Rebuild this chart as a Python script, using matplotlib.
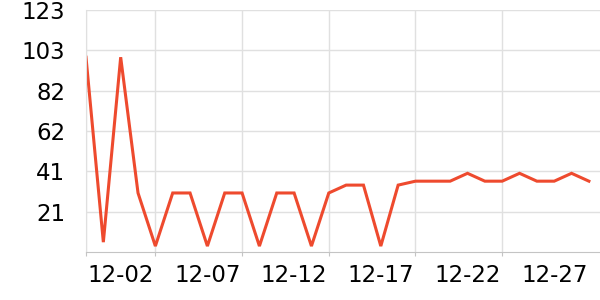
import matplotlib
matplotlib.use("Agg")
import matplotlib.pyplot as plt

dates = ["11-30"] + [f"12-{d:02d}" for d in range(1, 30)]
values = [99, 5, 99, 30, 3, 30, 30, 3, 30, 30, 3, 30, 30, 3, 30,
          34, 34, 3, 34, 36, 36, 36, 40, 36, 36, 40, 36, 36, 40, 36]
label_idx = [2, 7, 12, 17, 22, 27]
split_idx = [0, 4, 9, 14, 19, 24]
y_ticks = [20.5, 41, 61.5, 82, 102.5, 123]
y_labels = ["21", "41", "62", "82", "103", "123"]

fig = plt.figure(figsize=(6, 3), dpi=100)
ax = fig.add_axes([86 / 600, 48 / 300, 514 / 600, 242 / 300])

x = list(range(len(values)))
ax.plot(x, values, color="#ee4a2e", linewidth=2.2, solid_joinstyle="miter")

ax.set_xlim(0, 29.64)
ax.set_ylim(0, 123)

# split lines / ticks at category boundaries, labels at other positions
ax.set_xticks(split_idx)
ax.set_xticklabels([])
ax.tick_params(axis="x", which="major", length=3, color="#c4c4c4")
ax.set_xticks(label_idx, minor=True)
ax.set_xticklabels([dates[i] for i in label_idx], minor=True)
ax.tick_params(axis="x", which="minor", length=0, pad=9, labelsize=16.5)
ax.xaxis.grid(True, which="major", color="#e0e0e0", linewidth=1)

ax.set_yticks(y_ticks)
ax.set_yticklabels(y_labels)
ax.tick_params(axis="y", length=0, pad=15, labelsize=16.5)
ax.yaxis.grid(True, color="#e0e0e0", linewidth=1)
ax.set_axisbelow(True)

for side in ["top", "right"]:
    ax.spines[side].set_visible(False)
ax.spines["left"].set_color("#e0e0e0")
ax.spines["bottom"].set_color("#c4c4c4")

fig.savefig("out.png", dpi=100)
